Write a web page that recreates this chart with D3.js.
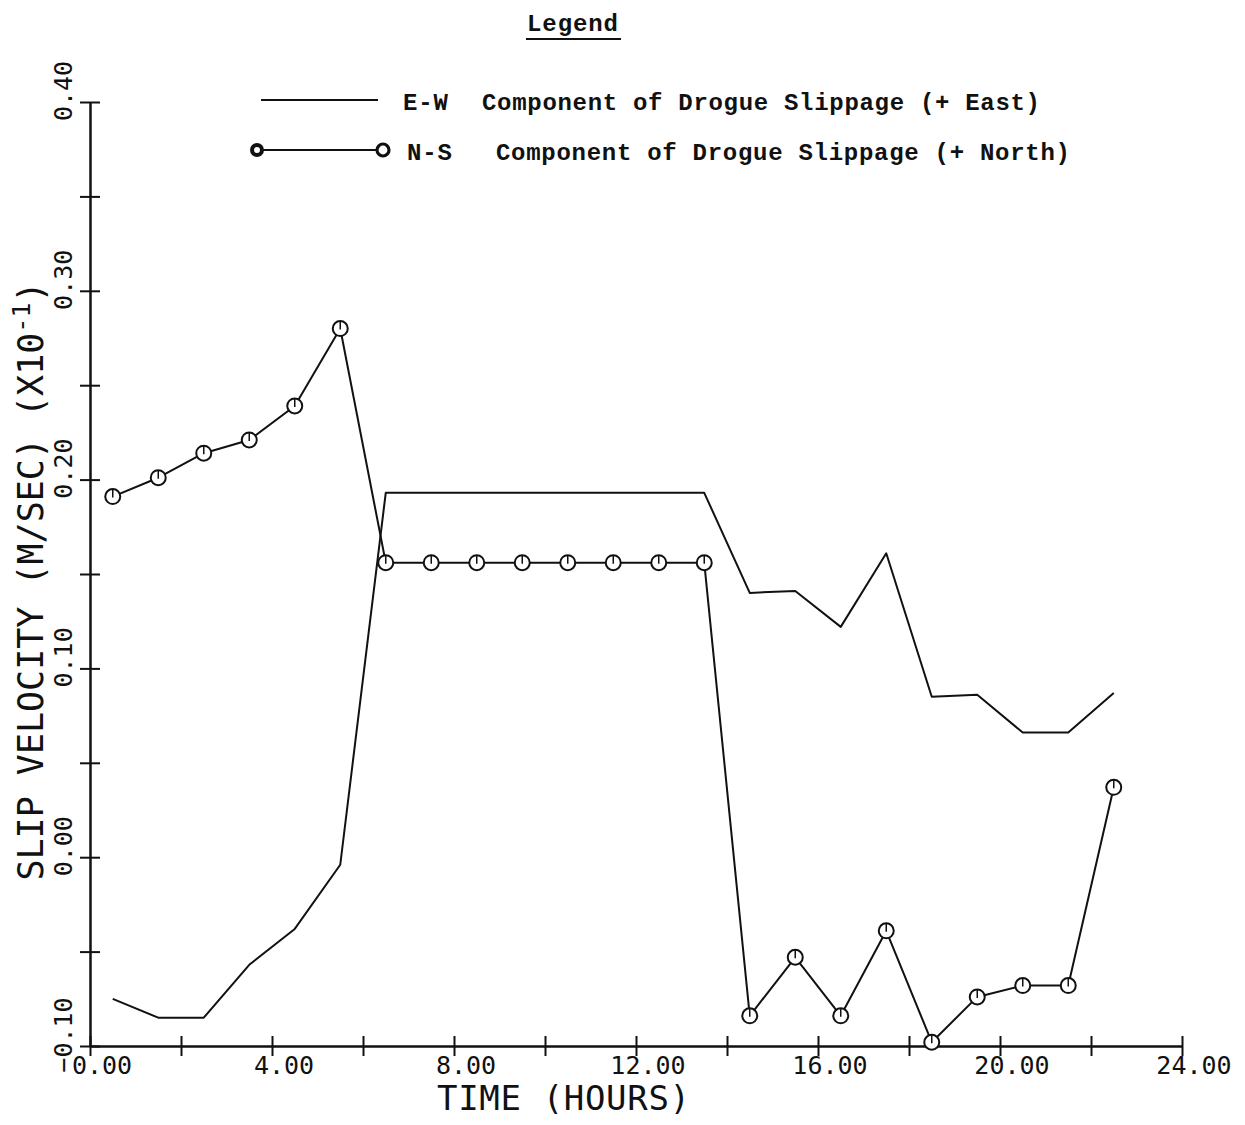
<!DOCTYPE html>
<html>
<head>
<meta charset="utf-8">
<script src="https://cdn.jsdelivr.net/npm/d3@7"></script>
<style>
  body { margin: 0; background: #fff; }
  svg { display: block; }
</style>
</head>
<body>
<svg width="1245" height="1125"></svg>
<script>
// time of each sample (hours)
const hours = [0.5, 1.5, 2.5, 3.5, 4.5, 5.5, 6.5, 7.5, 8.5, 9.5, 10.5, 11.5,
  12.5, 13.5, 14.5, 15.5, 16.5, 17.5, 18.5, 19.5, 20.5, 21.5, 22.5];

// E-W component of drogue slippage (+ East)
const ewValues = [-0.075, -0.085, -0.085, -0.057, -0.038, -0.004, 0.193, 0.193,
  0.193, 0.193, 0.193, 0.193, 0.193, 0.193, 0.140, 0.141, 0.122, 0.161,
  0.085, 0.086, 0.066, 0.066, 0.087];

// N-S component of drogue slippage (+ North)
const nsValues = [0.191, 0.201, 0.214, 0.221, 0.239, 0.280, 0.156, 0.156,
  0.156, 0.156, 0.156, 0.156, 0.156, 0.156, -0.084, -0.053, -0.084, -0.039,
  -0.098, -0.074, -0.068, -0.068, 0.037];

const xTicks = [0, 2, 4, 6, 8, 10, 12, 14, 16, 18, 20, 22, 24];
const xLabels = [0, 4, 8, 12, 16, 20, 24];
const yTicks = [-0.10, -0.05, 0.00, 0.05, 0.10, 0.15, 0.20, 0.25, 0.30, 0.35, 0.40];
const yLabels = [-0.10, 0.00, 0.10, 0.20, 0.30, 0.40];

const legendNames = ['Component of Drogue Slippage (+ East)', 'Component of Drogue Slippage (+ North)'];
const legendCodes = ['E-W', 'N-S'];

const INK = '#111';
const PLOT_FONT = '"DejaVu Sans Mono", monospace';
const TYPE_FONT = '"Liberation Mono", "DejaVu Sans Mono", monospace';

const svg = d3.select('svg');

const x = d3.scaleLinear().domain([0, 24]).range([90, 1182]);
const y = d3.scaleLinear().domain([-0.1, 0.4]).range([1046, 102]);
const fmt = d3.format('.2f');

// x axis, ticks cross the line
const xAxis = svg.append('g')
  .attr('transform', `translate(0,${y(-0.1)})`)
  .call(d3.axisBottom(x).tickValues(xTicks).tickSizeOuter(0).tickFormat(''));
xAxis.select('.domain').attr('stroke', INK).attr('stroke-width', 2.5);
xAxis.selectAll('.tick line').attr('y1', -10).attr('y2', 10)
  .attr('stroke', INK).attr('stroke-width', 2);

// y axis
const yAxis = svg.append('g')
  .attr('transform', `translate(${x(0)},0)`)
  .call(d3.axisLeft(y).tickValues(yTicks).tickSizeOuter(0).tickFormat(''));
yAxis.select('.domain').attr('stroke', INK).attr('stroke-width', 2.5);
yAxis.selectAll('.tick line').attr('x1', -10).attr('x2', 10)
  .attr('stroke', INK).attr('stroke-width', 2);

// tick labels
svg.append('g').selectAll('text')
  .data(xLabels)
  .join('text')
  .attr('x', d => x(d) + 12)
  .attr('y', 1074)
  .attr('text-anchor', 'middle')
  .attr('font-family', PLOT_FONT)
  .attr('font-size', 25)
  .attr('fill', INK)
  .text(d => fmt(d));

svg.append('g').selectAll('text')
  .data(yLabels)
  .join('text')
  .attr('transform', d => `translate(72,${y(d) - 11}) rotate(-90)`)
  .attr('text-anchor', 'middle')
  .attr('font-family', PLOT_FONT)
  .attr('font-size', 25)
  .attr('fill', INK)
  .text(d => fmt(d));

// axis titles
svg.append('text')
  .attr('x', 437)
  .attr('y', 1110)
  .attr('font-family', PLOT_FONT)
  .attr('font-size', 34)
  .attr('fill', INK)
  .attr('textLength', 253)
  .text('TIME (HOURS)');

const yTitle = svg.append('text')
  .attr('transform', 'translate(43,581) rotate(-90)')
  .attr('text-anchor', 'middle')
  .attr('font-family', PLOT_FONT)
  .attr('font-size', 35)
  .attr('fill', INK);
yTitle.append('tspan').text('SLIP VELOCITY (M/SEC) (X10');
yTitle.append('tspan').attr('dy', -13).attr('font-size', 25).text('-1');
yTitle.append('tspan').attr('dy', 13).text(')');

// data lines
const line = d3.line()
  .x(d => x(d[0]))
  .y(d => y(d[1]));

svg.append('path')
  .datum(d3.zip(hours, ewValues))
  .attr('d', line)
  .attr('fill', 'none')
  .attr('stroke', INK)
  .attr('stroke-width', 2)
  .attr('stroke-linejoin', 'round');

svg.append('path')
  .datum(d3.zip(hours, nsValues))
  .attr('d', line)
  .attr('fill', 'none')
  .attr('stroke', INK)
  .attr('stroke-width', 2)
  .attr('stroke-linejoin', 'round');

const marks = svg.append('g').selectAll('g')
  .data(d3.zip(hours, nsValues))
  .join('g')
  .attr('transform', d => `translate(${x(d[0])},${y(d[1])})`);
marks.append('circle')
  .attr('r', 7.5)
  .attr('fill', '#fff')
  .attr('stroke', INK)
  .attr('stroke-width', 2);
marks.append('line')
  .attr('y1', -7.5).attr('y2', 1)
  .attr('stroke', INK)
  .attr('stroke-width', 1.5);

// legend
svg.append('text')
  .attr('x', 527)
  .attr('y', 31)
  .attr('font-family', TYPE_FONT)
  .attr('font-size', 24)
  .attr('font-weight', 'bold')
  .attr('fill', INK)
  .attr('textLength', 91)
  .text('Legend');
svg.append('line')
  .attr('x1', 526).attr('x2', 621)
  .attr('y1', 39).attr('y2', 39)
  .attr('stroke', INK).attr('stroke-width', 2);

const legendRows = svg.append('g').selectAll('g')
  .data(legendNames)
  .join('g')
  .attr('transform', (d, i) => `translate(0,${i ? 150 : 100})`);

legendRows.append('line')
  .attr('x1', (d, i) => i ? 257 : 261)
  .attr('x2', (d, i) => i ? 383 : 378)
  .attr('stroke', INK)
  .attr('stroke-width', 2);

legendRows.filter((d, i) => i === 1).selectAll('circle')
  .data([[257, 5, 4], [383, 6, 3.2]])
  .join('circle')
  .attr('cx', d => d[0])
  .attr('r', d => d[1])
  .attr('fill', '#fff')
  .attr('stroke', INK)
  .attr('stroke-width', d => d[2]);

legendRows.append('text')
  .attr('x', (d, i) => i ? 407 : 403)
  .attr('y', 10)
  .attr('font-family', TYPE_FONT)
  .attr('font-size', 24)
  .attr('font-weight', 'bold')
  .attr('fill', INK)
  .attr('textLength', 45)
  .text((d, i) => legendCodes[i]);

legendRows.append('text')
  .attr('x', (d, i) => i ? 496 : 482)
  .attr('y', 10)
  .attr('font-family', TYPE_FONT)
  .attr('font-size', 24)
  .attr('font-weight', 'bold')
  .attr('fill', INK)
  .attr('textLength', (d, i) => i ? 574 : 558)
  .text(d => d);
</script>
</body>
</html>
